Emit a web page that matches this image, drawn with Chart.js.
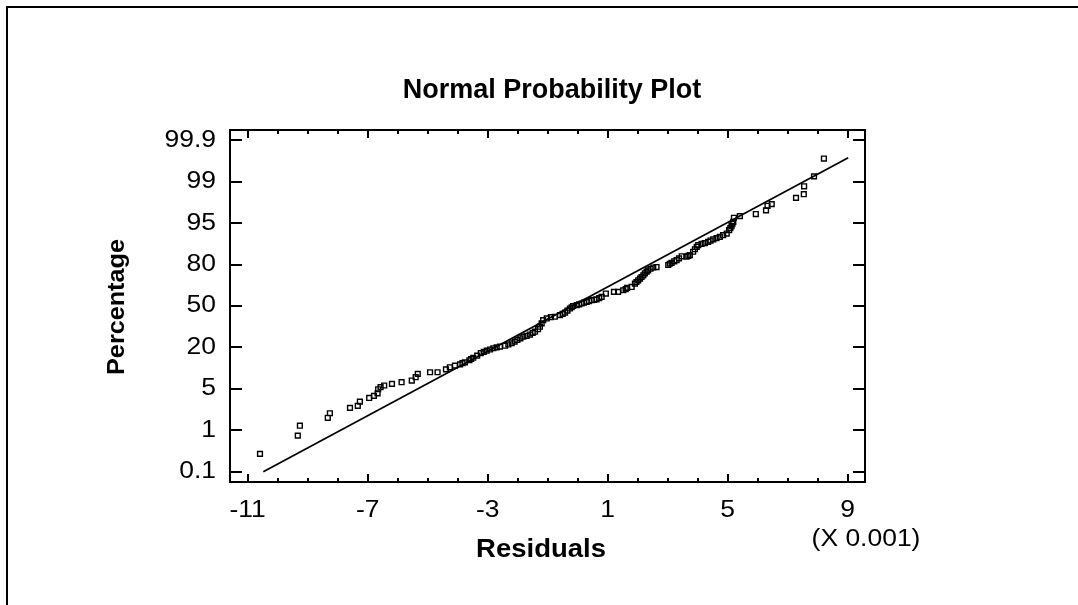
<!DOCTYPE html>
<html>
<head>
<meta charset="utf-8">
<script src="https://cdn.jsdelivr.net/npm/chart.js@4.4.0/dist/chart.umd.min.js"></script>
<style>
  html, body { margin: 0; padding: 0; background: #fff; }
  #wrap { position: relative; width: 1078px; height: 605px; overflow: hidden; }
  #frame { position: absolute; left: 6px; top: 6px; width: 1200px; height: 700px;
           border-left: 2px solid #000; border-top: 2px solid #000; }
  canvas { position: absolute; left: 0; top: 0; }
</style>
</head>
<body>
<div id="wrap">
  <div id="frame"></div>
  <canvas id="c" width="1078" height="605"></canvas>
</div>
<script>
// residuals in units of 0.001
const xTicks = [-11, -7, -3, 1, 5, 9];
// probability axis labels, one per equally spaced tick (index 0..8)
const yTickLabels = ['0.1', '1', '5', '20', '50', '80', '95', '99', '99.9'];

const residuals = [
  -10.59, -9.33, -9.26, -8.33, -8.26, -7.59, -7.33, -7.26, -6.95, -6.79,
  -6.67, -6.65, -6.57, -6.45, -6.19, -5.87, -5.53, -5.40, -5.33, -4.92,
  -4.67, -4.39, -4.26, -4.09, -3.92, -3.84, -3.76, -3.61, -3.55, -3.48,
  -3.35, -3.23, -3.13, -3.03, -2.92, -2.81, -2.70, -2.59, -2.42, -2.31,
  -2.20, -2.10, -2.01, -1.91, -1.81, -1.70, -1.59, -1.50, -1.42, -1.32,
  -1.26, -1.20, -1.15, -1.03, -0.89, -0.76, -0.59, -0.50, -0.42, -0.34,
  -0.26, -0.20, -0.15, -0.03, 0.05, 0.13, 0.21, 0.30, 0.38, 0.47,
  0.55, 0.63, 0.72, 0.80, 0.94, 1.21, 1.35, 1.52, 1.60, 1.65,
  1.80, 1.91, 1.96, 2.02, 2.08, 2.13, 2.19, 2.24, 2.30, 2.35,
  2.43, 2.52, 2.63, 3.02, 3.07, 3.13, 3.22, 3.30, 3.38, 3.47,
  3.63, 3.69, 3.74, 3.85, 3.91, 3.97, 4.02, 4.13, 4.24, 4.35,
  4.43, 4.52, 4.63, 4.74, 4.85, 4.97, 5.05, 5.09, 5.13, 5.16,
  5.19, 5.21, 5.41, 5.94, 6.28, 6.33, 6.47, 7.28, 7.54, 7.55,
  7.88, 8.21
];
// position on the probability axis (in tick-index units)
const probPos = [
  0.43, 0.87, 1.11, 1.30, 1.41, 1.54, 1.59, 1.69, 1.78, 1.83,
  1.89, 1.99, 2.04, 2.08, 2.12, 2.16, 2.20, 2.28, 2.36, 2.40,
  2.40, 2.47, 2.52, 2.56, 2.59, 2.62, 2.64, 2.69, 2.72, 2.75,
  2.80, 2.86, 2.89, 2.92, 2.95, 2.98, 3.00, 3.02, 3.04, 3.07,
  3.10, 3.14, 3.18, 3.22, 3.26, 3.28, 3.31, 3.35, 3.38, 3.44,
  3.50, 3.58, 3.66, 3.70, 3.73, 3.74, 3.78, 3.81, 3.84, 3.89,
  3.94, 3.97, 4.00, 4.02, 4.04, 4.06, 4.08, 4.10, 4.12, 4.14,
  4.15, 4.16, 4.19, 4.22, 4.30, 4.34, 4.34, 4.38, 4.41, 4.44,
  4.46, 4.54, 4.58, 4.62, 4.66, 4.70, 4.74, 4.79, 4.83, 4.86,
  4.90, 4.93, 4.94, 4.99, 5.02, 5.04, 5.08, 5.11, 5.15, 5.20,
  5.19, 5.21, 5.23, 5.31, 5.37, 5.43, 5.47, 5.50, 5.52, 5.55,
  5.58, 5.61, 5.64, 5.67, 5.71, 5.75, 5.83, 5.88, 5.93, 5.98,
  6.03, 6.13, 6.17, 6.22, 6.31, 6.42, 6.46, 6.61, 6.70, 6.89,
  7.13, 7.56
];
// reference line end points
const fitX = [-10.48, 9.02];
const fitY = [0, 7.58];

const FONT = "'Liberation Sans', Arial, sans-serif";

function stretchText(ctx, str, x, y, font, align, sx, rot) {
  ctx.save();
  ctx.translate(x, y);
  if (rot) ctx.rotate(rot);
  ctx.scale(sx, 1);
  ctx.font = font;
  ctx.fillStyle = '#000';
  ctx.textAlign = align;
  ctx.textBaseline = 'middle';
  ctx.fillText(str, 0, 0);
  ctx.restore();
}

const axesPlugin = {
  id: 'axesPlugin',
  afterDraw(chart) {
    const { ctx, chartArea: a, scales: { x, y } } = chart;
    ctx.save();
    ctx.strokeStyle = '#000';
    ctx.lineWidth = 2;
    ctx.strokeRect(a.left, a.top, a.right - a.left, a.bottom - a.top);

    ctx.beginPath();
    for (let v = -11; v <= 9; v++) {
      const px = Math.round(x.getPixelForValue(v));
      const len = xTicks.includes(v) ? 8 : 4;
      ctx.moveTo(px, a.bottom); ctx.lineTo(px, a.bottom - len);
      ctx.moveTo(px, a.top); ctx.lineTo(px, a.top + len);
    }
    yTickLabels.forEach((_, i) => {
      const py = Math.round(y.getPixelForValue(i));
      ctx.moveTo(a.left, py); ctx.lineTo(a.left + 12, py);
      ctx.moveTo(a.right, py); ctx.lineTo(a.right - 12, py);
    });
    ctx.stroke();
    ctx.restore();

    const tickFont = '23px ' + FONT;
    yTickLabels.forEach((lab, i) => {
      stretchText(ctx, lab, 216, y.getPixelForValue(i), tickFont, 'right', 1.15);
    });
    xTicks.forEach(v => {
      stretchText(ctx, String(v), x.getPixelForValue(v), 511, tickFont, 'center', 1.15);
    });
    stretchText(ctx, '(X 0.001)', 866, 540, tickFont, 'center', 1.15);
    stretchText(ctx, 'Normal Probability Plot', 552, 91, 'bold 27px ' + FONT, 'center', 1.0);
    stretchText(ctx, 'Residuals', 541, 550, 'bold 25px ' + FONT, 'center', 1.1);
    stretchText(ctx, 'Percentage', 117, 307, 'bold 24px ' + FONT, 'center', 1.05, -Math.PI / 2);
  }
};

new Chart(document.getElementById('c'), {
  type: 'scatter',
  data: {
    datasets: [
      {
        type: 'line',
        data: fitX.map((v, i) => ({ x: v, y: fitY[i] })),
        borderColor: '#000',
        borderWidth: 1.7,
        pointRadius: 0,
        fill: false
      },
      {
        data: residuals.map((v, i) => ({ x: v, y: probPos[i] })),
        pointStyle: 'rect',
        pointRadius: 3.4,
        borderColor: '#000',
        borderWidth: 1.4,
        backgroundColor: 'rgba(0,0,0,0)'
      }
    ]
  },
  options: {
    responsive: false,
    animation: false,
    devicePixelRatio: 1,
    layout: { padding: { left: 230, right: 213, top: 130, bottom: 123 } },
    plugins: { legend: { display: false }, tooltip: { enabled: false }, title: { display: false } },
    scales: {
      x: {
        type: 'linear', min: -11.59, max: 9.58,
        ticks: { display: false }, grid: { display: false }, border: { display: false },
        afterFit(s) { s.height = 0; }
      },
      y: {
        type: 'linear', min: -0.25, max: 8.25,
        ticks: { display: false }, grid: { display: false }, border: { display: false },
        afterFit(s) { s.width = 0; }
      }
    }
  },
  plugins: [axesPlugin]
});
</script>
</body>
</html>
